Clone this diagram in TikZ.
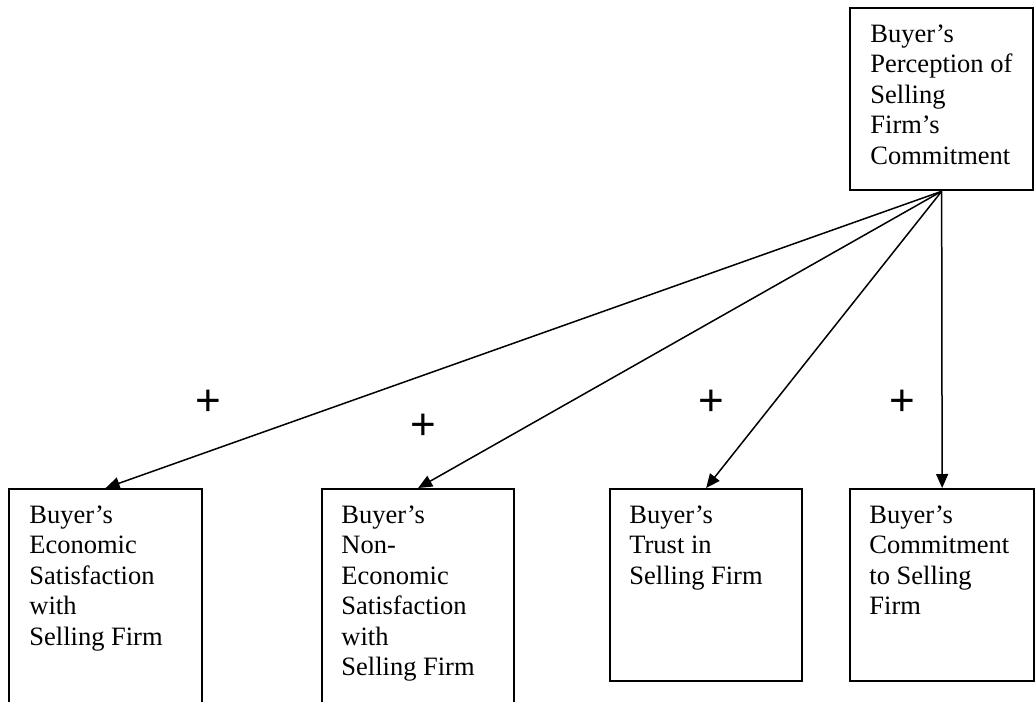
\documentclass[tikz,border=0pt]{standalone}
\usepackage{fontspec}
\setmainfont{Liberation Serif}
\newfontfamily\signfont{Liberation Sans}
\usetikzlibrary{arrows.meta}

\tikzset{
  box/.style={draw, line width=1.15pt, inner sep=0pt, anchor=north west},
  lbl/.style={anchor=north west, inner sep=0pt, align=left, font=\fontsize{13.25}{15.25}\selectfont},
  sign/.style={inner sep=0pt, font=\signfont\fontsize{22}{22}\selectfont},
  arr/.style={-{Triangle[length=7pt,width=6pt]}, line width=0.75pt}
}

\begin{document}
\begin{tikzpicture}[x=0.5pt,y=-0.5pt]
\clip (0,0) rectangle (1035,702);
% Boxes:
\node (perc) [box, minimum width=91.5pt, minimum height=91pt] at (849,7) {};
\node (econ) [box, minimum width=96.5pt, minimum height=126pt] at (8,488) {};
\node (nonecon) [box, minimum width=96pt, minimum height=126pt] at (321,488) {};
\node (trust) [box, minimum width=96pt, minimum height=96pt] at (609,488) {};
\node (commit) [box, minimum width=92pt, minimum height=96pt] at (849,488) {};
% Texts:
\node (percl) [lbl] at (870,24) {Buyer's\\Perception of\\Selling\\Firm's\\Commitment};
\node (econl) [lbl] at (29,505) {Buyer's\\Economic\\Satisfaction\\with\\Selling Firm};
\node (noneconl) [lbl] at (341,505) {Buyer's\\Non-\\Economic\\Satisfaction\\with\\Selling Firm};
\node (trustl) [lbl] at (629,505) {Buyer's\\Trust in\\Selling Firm};
\node (commitl) [lbl] at (869,505) {Buyer's\\Commitment\\to Selling\\Firm};
% Arrows:
\draw[arr] (perc.south) -- (econ.north);
\draw[arr] (perc.south) -- (nonecon.north);
\draw[arr] (perc.south) -- (trust.north);
\draw[arr] (perc.south) -- (commit.north);
\node (s1) [sign] at (208,403) {+};
\node (s2) [sign] at (423,427) {+};
\node (s3) [sign] at (711,403) {+};
\node (s4) [sign] at (902,403) {+};
\end{tikzpicture}
\end{document}
